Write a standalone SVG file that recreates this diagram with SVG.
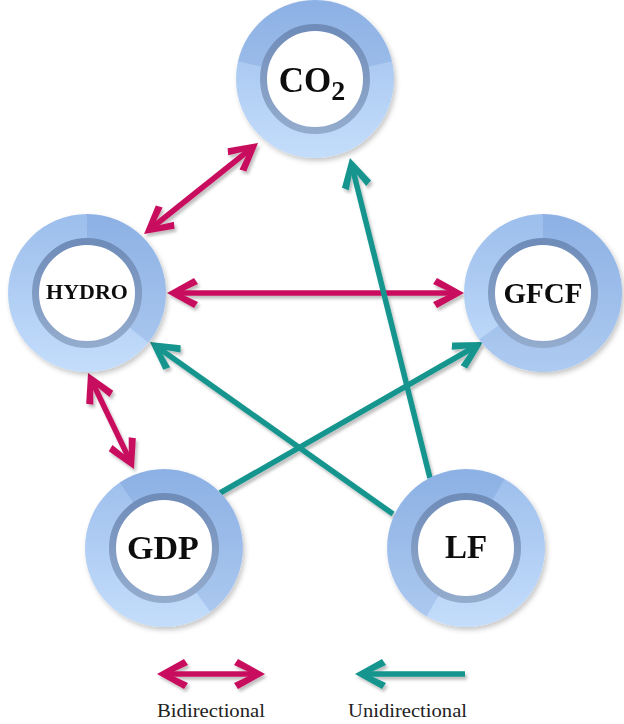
<svg xmlns="http://www.w3.org/2000/svg" width="624" height="724" viewBox="0 0 624 724">
<defs>
<style>
.ring{fill:url(#gRing);}
.wedge{fill:#3f6fc0;fill-opacity:0.17;}
.inner{fill:#ffffff;stroke:url(#gInner);stroke-width:7;}
.lbl{font-family:"Liberation Serif","DejaVu Serif",serif;font-weight:bold;fill:#111;text-anchor:middle;}
.bi{stroke:#c8115f;stroke-width:5.5;fill:none;marker-start:url(#mBi);marker-end:url(#mBi);}
.uni{stroke:#14958e;stroke-width:5.5;fill:none;marker-end:url(#mUni);}
.leg{font-family:"Liberation Serif","DejaVu Serif",serif;font-size:18px;fill:#222;}
</style>
<linearGradient id="gRing" x1="0" y1="0" x2="0" y2="1">
<stop offset="0" stop-color="#9cbeec"/>
<stop offset="1" stop-color="#c4ddfb"/>
</linearGradient>
<linearGradient id="gInner" x1="0" y1="0" x2="0" y2="1">
<stop offset="0" stop-color="#6f8cb9"/>
<stop offset="1" stop-color="#93abcd"/>
</linearGradient>
<filter id="sh" x="-20%" y="-20%" width="140%" height="140%">
<feDropShadow dx="2" dy="3" stdDeviation="2.5" flood-color="#000" flood-opacity="0.22"/>
</filter>
<filter id="ash" filterUnits="userSpaceOnUse" x="0" y="0" width="624" height="724">
<feDropShadow dx="2" dy="3" stdDeviation="1.5" flood-color="#000" flood-opacity="0.25"/>
</filter>
<marker id="mBi" markerUnits="userSpaceOnUse" viewBox="-34 -18 36 36" markerWidth="36" markerHeight="36" refX="-8" refY="0" orient="auto-start-reverse">
<polygon points="0,0 -27,-15 -31,-9 -12,0 -31,9 -27,15" fill="#c8115f"/>
</marker>
<marker id="mUni" markerUnits="userSpaceOnUse" viewBox="-34 -18 36 36" markerWidth="36" markerHeight="36" refX="-8" refY="0" orient="auto">
<polygon points="0,0 -27,-15 -31,-9 -12,0 -31,9 -27,15" fill="#14958e"/>
</marker>
</defs>

<g id="connectors" filter="url(#ash)">
<line class="bi" x1="251.8" y1="148.0" x2="150.3" y2="229.0"/>
<line class="bi" x1="175" y1="293" x2="456" y2="293"/>
<line class="bi" x1="91.5" y1="380.2" x2="130.5" y2="461.8"/>
<line class="uni" x1="430" y1="478" x2="351.9" y2="165.8"/>
<line class="uni" x1="393" y1="514" x2="156.5" y2="346.6"/>
<line class="uni" x1="220" y1="493" x2="476.1" y2="346.0"/>
</g>

<g id="node-co2" filter="url(#sh)">
<circle class="ring" cx="315" cy="79" r="79"/>
<path class="wedge" d="M315 79 L238.0 61.2 A79 79 0 0 1 392.0 61.2 Z"/>
<circle class="inner" cx="315" cy="79" r="51.5"/>
<text class="lbl" x="312" y="92" font-size="35">CO<tspan font-size="28" dy="8">2</tspan></text>
</g>

<g id="node-hydro" filter="url(#sh)">
<circle class="ring" cx="87" cy="293" r="79"/>
<path class="wedge" d="M87 293 L87 214 A79 79 0 0 1 148.4 342.7 Z"/>
<circle class="inner" cx="87" cy="293" r="51.5"/>
<text class="lbl" x="87" y="299" font-size="22">HYDRO</text>
</g>

<g id="node-gfcf" filter="url(#sh)">
<circle class="ring" cx="543" cy="293" r="79"/>
<path class="wedge" d="M543 293 L543 214 A79 79 0 1 1 479.1 339.4 Z"/>
<circle class="inner" cx="543" cy="293" r="51.5"/>
<text class="lbl" x="543" y="303" font-size="29">GFCF</text>
</g>

<g id="node-gdp" filter="url(#sh)">
<circle class="ring" cx="164" cy="548" r="79"/>
<path class="wedge" d="M164 548 L119.8 482.5 A79 79 0 0 1 210.4 611.9 Z"/>
<circle class="inner" cx="164" cy="548" r="51.5"/>
<text class="lbl" x="163" y="559" font-size="34">GDP</text>
</g>

<g id="node-lf" filter="url(#sh)">
<circle class="ring" cx="466" cy="548" r="79"/>
<path class="wedge" d="M466 548 L426.5 616.4 A79 79 0 0 1 504.3 478.9 Z"/>
<circle class="inner" cx="466" cy="548" r="51.5"/>
<text class="lbl" x="466" y="558" font-size="33">LF</text>
</g>

<g id="legend">
<g filter="url(#ash)">
<line class="bi" x1="165" y1="674" x2="257" y2="674"/>
<line class="uni" x1="465" y1="674" x2="363" y2="674"/>
</g>
<text class="leg" x="157" y="717" textLength="108" lengthAdjust="spacingAndGlyphs">Bidirectional</text>
<text class="leg" x="348" y="717" textLength="119" lengthAdjust="spacingAndGlyphs">Unidirectional</text>
</g>
</svg>
